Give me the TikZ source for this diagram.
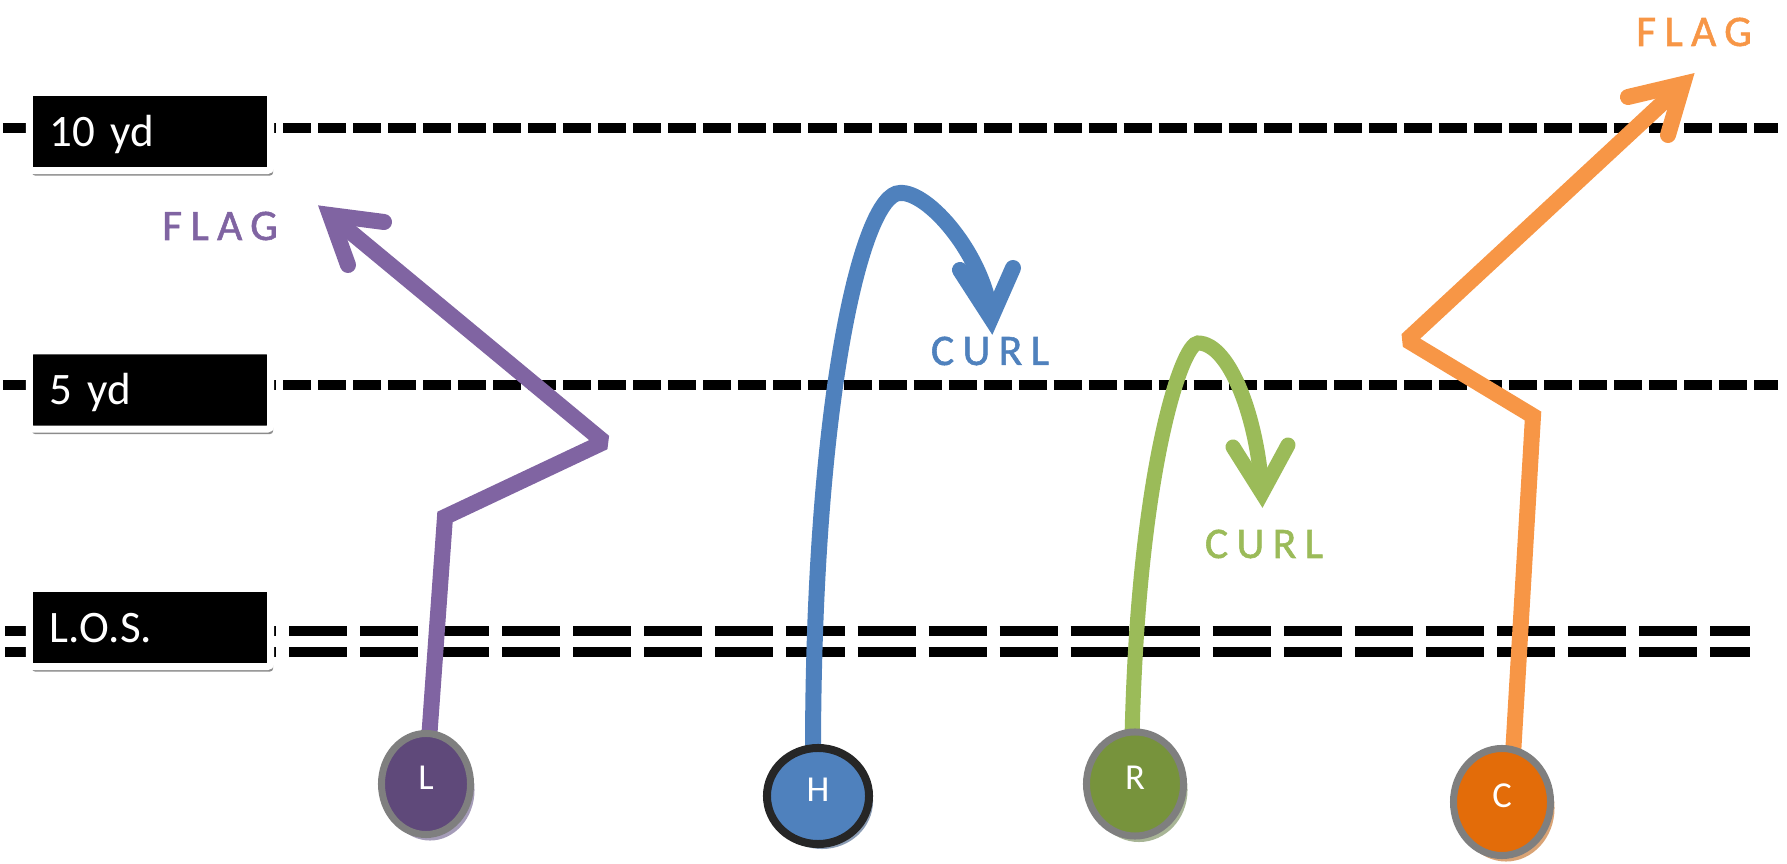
\documentclass[tikz,border=0pt]{standalone}
\usepackage{fontspec}
\setmainfont{Carlito}
\newfontfamily\lblfont[LetterSpace=19,FakeBold=1.2]{Carlito}
\usetikzlibrary{shapes.geometric,shadows}
\pgfdeclarelayer{field}
\pgfdeclarelayer{routes}
\pgfsetlayers{field,routes,main}
\definecolor{purpleR}{HTML}{8064A2}
\definecolor{blueR}{HTML}{4F81BD}
\definecolor{greenR}{HTML}{9BBB59}
\definecolor{orangeR}{HTML}{F79646}
\definecolor{Lfill}{HTML}{5F497A}
\definecolor{Rfill}{HTML}{77933C}
\definecolor{Cfill}{HTML}{E36C09}
\definecolor{pgray}{HTML}{7F7F7F}
\definecolor{Hline}{HTML}{262626}
\definecolor{Lshadow}{HTML}{A59CB8}
\definecolor{Hshadow}{HTML}{8A9BB3}
\definecolor{Rshadow}{HTML}{A8B596}
\definecolor{Cshadow}{HTML}{D9A375}
\begin{document}
\begin{tikzpicture}[x=0.01cm,y=-0.01cm,
  yardline/.style={line width=0.1cm, dash pattern=on 0.28cm off 0.07cm},
  losline/.style={line width=0.095cm, dash pattern=on 0.58cm off 0.13cm},
  box/.style={fill=black, draw=white, line width=0.07cm, rounded corners=0.03cm,
    minimum width=2.41cm, minimum height=0.78cm, text width=2.0cm, inner xsep=0.205cm,
    inner ysep=0pt, align=left, text=white, font=\fontsize{12.8}{14}\selectfont,
    text height=0.29cm, text depth=0cm,
    drop shadow={shadow xshift=0.025cm, shadow yshift=-0.05cm, fill=black, opacity=0.45}},
  player/.style={ellipse, inner sep=0pt, line width=0.07cm, draw=pgray, text=white,
    font=\fontsize{10.4}{12}\selectfont, text height=0.23cm, text depth=0.12cm},
  rlabel/.style={font=\lblfont\fontsize{12.4}{14}\selectfont, inner sep=0pt, xshift=0.02cm},
  route/.style={line width=0.16cm, line join=miter, miter limit=1.5, line cap=butt},
  head/.style={line width=0.16cm, line join=miter, miter limit=20, line cap=round}]
\useasboundingbox (0,0) rectangle (1787,864);

% field lines
\begin{pgfonlayer}{field}
  \draw[yardline] (3,128) -- (1778,128);
  \draw[yardline] (3,385) -- (1778,385);
  \draw[losline] (5,631) -- (1750,631);
  \draw[losline] (5,652) -- (1750,652);
\end{pgfonlayer}

% yard labels
\node[box] (b10) at (150,131.5) {10 yd};
\node[box] (b5) at (150,390) {5 yd};
\node[box] (blos) at (150,627.5) {L.O.S.};

% players
\node[player, fill=Lfill, minimum width=0.89cm, minimum height=1.01cm,
  drop shadow={fill=Lshadow, opacity=1, shadow xshift=0.04cm, shadow yshift=-0.06cm}] (L) at (426,784) {L};
\node[player, draw=Hline, line width=0.08cm, fill=blueR, minimum width=1.02cm, minimum height=0.96cm,
  drop shadow={fill=Hshadow, opacity=1, shadow xshift=0.04cm, shadow yshift=-0.05cm}] (H) at (818,796) {H};
\node[player, fill=Rfill, minimum width=0.97cm, minimum height=1.04cm,
  drop shadow={fill=Rshadow, opacity=1, shadow xshift=0.04cm, shadow yshift=-0.06cm}] (R) at (1135,784) {R};
\node[player, fill=Cfill, minimum width=0.97cm, minimum height=1.07cm,
  drop shadow={fill=Cshadow, opacity=1, shadow xshift=0.04cm, shadow yshift=-0.06cm}] (C) at (1502,802) {C};

% route points
\coordinate (lp1) at (445,517);
\coordinate (lp2) at (604,442);
\coordinate (lt) at (330,215);
\coordinate (lb1) at (384,222);
\coordinate (lb2) at (348,265);

\coordinate (bpk) at (900,193);
\coordinate (bt) at (991,318);
\coordinate (bb1) at (960,270);
\coordinate (bb2) at (1013,268);

\coordinate (gpk) at (1198,343);
\coordinate (gt) at (1262,493);
\coordinate (gb1) at (1233,447);
\coordinate (gb2) at (1288,445);

\coordinate (cp1) at (1533,416);
\coordinate (cp2) at (1407,340);
\coordinate (ct) at (1683,84);
\coordinate (cb1) at (1628,97);
\coordinate (cb2) at (1668,135);

% routes
\begin{pgfonlayer}{routes}
  \draw[route, purpleR] ([xshift=0.03cm,yshift=-0.1cm]L.north) -- (lp1) -- (lp2) -- (lt);
  \draw[head, purpleR] (lb1) -- (lt) -- (lb2);

  \draw[route, blueR] ([xshift=-0.05cm,yshift=-0.1cm]H.north) .. controls (813,400) and (862,193) .. (bpk)
     .. controls (928,191) and (984,255) .. (bt);
  \draw[head, blueR] (bb1) -- (bt) -- (bb2);

  \draw[route, greenR, line width=0.15cm] ([xshift=-0.03cm,yshift=-0.1cm]R.north) .. controls (1138,470) and (1182,343) .. (gpk)
     .. controls (1230,343) and (1258,420) .. (gt);
  \draw[head, greenR, line width=0.15cm] (gb1) -- (gt) -- (gb2);

  \draw[route, orangeR] ([xshift=0.11cm,yshift=-0.1cm]C.north) -- (cp1) -- (cp2) -- (ct);
  \draw[head, orangeR] (cb1) -- (ct) -- (cb2);
\end{pgfonlayer}

% route labels
\node[rlabel, text=purpleR] (flagL) at (218,226) {FLAG};
\node[rlabel, text=orangeR] (flagC) at (1692,32) {FLAG};
\node[rlabel, text=blueR] (curlH) at (988,351) {CURL};
\node[rlabel, text=greenR] (curlR) at (1262,544) {CURL};
\end{tikzpicture}
\end{document}
